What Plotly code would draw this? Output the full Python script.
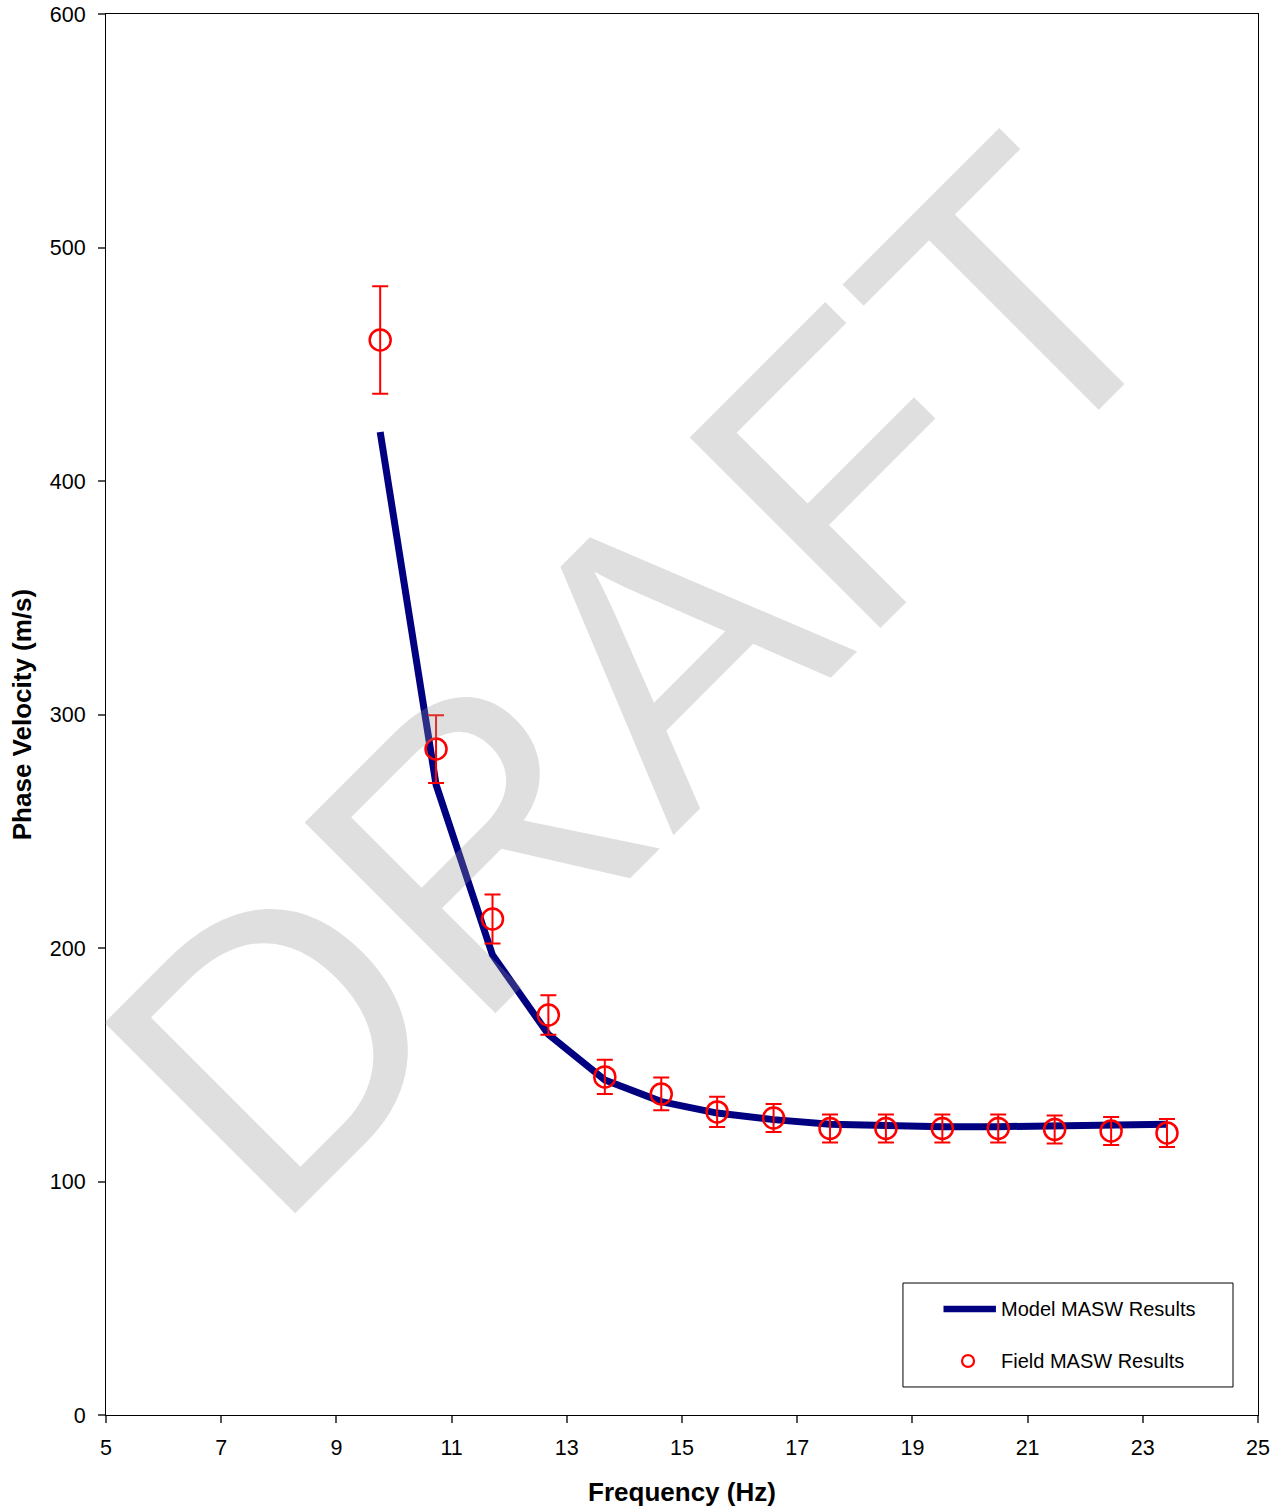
import plotly.graph_objects as go

freq = [9.76, 10.73, 11.71, 12.68, 13.66, 14.64, 15.61, 16.59, 17.57, 18.54, 19.52, 20.49, 21.47, 22.45, 23.42]
field_vel = [460.4, 285.2, 212.4, 171.3, 144.8, 137.5, 129.8, 127.2, 122.7, 122.7, 122.7, 122.7, 122.3, 121.6, 120.8]
field_err = [23, 14.5, 10.5, 8.5, 7.3, 7, 6.5, 6, 6, 6, 6, 6, 6, 6, 6]
model_vel = [421, 270, 197, 163, 143.5, 134.2, 129.3, 126.5, 124.5, 123.8, 123.5, 123.5, 123.8, 124.3, 124.5]
legend_names = ["Model MASW Results", "Field MASW Results"]

FONT = "Liberation Sans, Arial, sans-serif"
NAVY = "#000080"
RED = "#ff0000"

fig = go.Figure()
fig.add_trace(go.Scatter(
    x=freq, y=model_vel, mode="lines", name=legend_names[0], showlegend=False,
    line=dict(color=NAVY, width=7, shape="linear"),
))
fig.add_trace(go.Scatter(
    x=freq, y=field_vel, mode="markers", name=legend_names[1], showlegend=False,
    marker=dict(symbol="circle-open", size=21, color=RED, line=dict(width=2.5, color=RED)),
    error_y=dict(type="data", array=field_err, visible=True, color=RED, thickness=2, width=8),
))

# watermark
fig.add_annotation(
    text="DRAFT", xref="paper", yref="paper", x=0.462, y=0.526,
    showarrow=False, textangle=-45,
    font=dict(family=FONT, size=392, color="rgba(150,150,150,0.3)"),
)

# legend box (drawn in paper coordinates)
fig.add_shape(type="rect", xref="paper", yref="paper", x0=0.6918, x1=0.9783, y0=0.020, y1=0.0942,
              line=dict(color="#000000", width=1), fillcolor="white", layer="above")
fig.add_shape(type="line", xref="paper", yref="paper", x0=0.727, x1=0.7725, y0=0.0757, y1=0.0757,
              line=dict(color=NAVY, width=6.5), layer="above")
fig.add_shape(type="circle", xref="paper", yref="paper", x0=0.7431, x1=0.7535, y0=0.0343, y1=0.0428,
              line=dict(color=RED, width=2.2), layer="above")
fig.add_annotation(text=legend_names[0], xref="paper", yref="paper", x=0.7752, y=0.0757,
                   xanchor="left", yanchor="middle", showarrow=False,
                   font=dict(family=FONT, size=20, color="#000000"))
fig.add_annotation(text=legend_names[1], xref="paper", yref="paper", x=0.7752, y=0.0385,
                   xanchor="left", yanchor="middle", showarrow=False,
                   font=dict(family=FONT, size=20, color="#000000"))

axis_common = dict(
    showgrid=False, zeroline=False, showline=True, linecolor="#000000", linewidth=1,
    mirror=True, ticks="outside", ticklen=7, tickcolor="#555555", tickwidth=1.5,
    tickfont=dict(family=FONT, size=21.5, color="#000000"), automargin=False,
    ticklabeloverflow="allow",
)

fig.update_layout(
    width=1282, height=1511,
    margin=dict(l=106, r=24, t=14, b=96),
    plot_bgcolor="white", paper_bgcolor="white",
    font=dict(family=FONT, color="#000000"),
    showlegend=False,
    xaxis=dict(range=[5, 25], dtick=2, tick0=5, ticklabelstandoff=6,
               title=dict(text="<b>Frequency (Hz)</b>", font=dict(family=FONT, size=26), standoff=24),
               **axis_common),
    yaxis=dict(range=[0, 600], dtick=100, ticklabelstandoff=8,
               title=dict(text="<b>Phase Velocity (m/s)</b>", font=dict(family=FONT, size=26), standoff=10),
               **axis_common),
)

fig.write_html("out.html", config={"displayModeBar": False},
               post_script="document.body.style.margin='0';document.body.style.overflow='hidden';")
